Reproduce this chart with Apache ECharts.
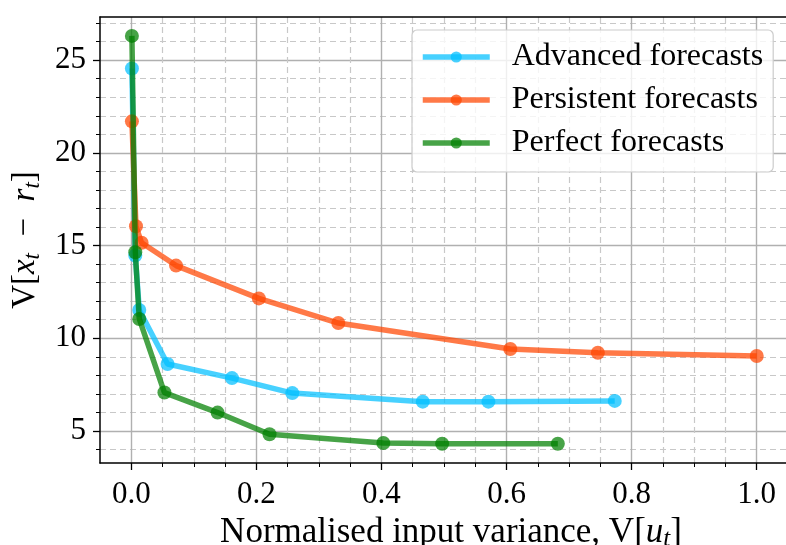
<!DOCTYPE html>
<html>
<head>
<meta charset="utf-8">
<script src="https://cdn.jsdelivr.net/npm/echarts@6/dist/echarts.min.js"></script>
<style>html,body{margin:0;padding:0;background:#fff}#c{width:786px;height:545px}</style>
</head>
<body>
<div id="c"></div>
<script>
const seriesNames = ['Advanced forecasts', 'Persistent forecasts', 'Perfect forecasts'];
const advancedX = [0.001, 0.0064, 0.0128, 0.058, 0.161, 0.2575, 0.466, 0.571, 0.773];
const advancedY = [24.55, 14.46, 11.52, 8.61, 7.85, 7.04, 6.58, 6.58, 6.62];
const persistentX = [0.001, 0.0075, 0.0165, 0.0716, 0.204, 0.331, 0.606, 0.746, 1.0];
const persistentY = [21.70, 16.04, 15.15, 13.92, 12.15, 10.82, 9.42, 9.22, 9.04];
const perfectX = [0.001, 0.0064, 0.0128, 0.053, 0.138, 0.221, 0.403, 0.497, 0.682];
const perfectY = [26.31, 14.64, 11.04, 7.07, 5.99, 4.82, 4.35, 4.31, 4.31];
const xTicks = [0, 0.2, 0.4, 0.6, 0.8, 1.0];
const yTicks = [5, 10, 15, 20, 25];

const FONT = '"Liberation Serif", "DejaVu Serif", serif';
const pair = (xs, ys) => xs.map((x, i) => [x, ys[i]]);
const colors = ['#00bfff', '#ff4500', '#008000'];

const chart = echarts.init(document.getElementById('c'), null, {renderer: 'canvas'});

const xMin = -0.05, xMax = 1.05, yMin = 3.27, yMax = 27.33;

function mkSeries(name, xs, ys, color, z) {
  return {
    name: name, type: 'line', data: pair(xs, ys),
    xAxisIndex: 0, yAxisIndex: 0,
    symbol: 'circle', symbolSize: 14, showAllSymbol: true,
    z: z,
    lineStyle: {color: color, width: 5.5, opacity: 0.72},
    itemStyle: {color: color, opacity: 0.72},
    emphasis: {disabled: true},
    animation: false
  };
}

function mkRich(size) {
  return {
    n: {fontFamily: FONT, fontSize: size, lineHeight: size + 4, color: '#000'},
    i: {fontFamily: FONT, fontSize: size, lineHeight: size + 4, fontStyle: 'italic', color: '#000'},
    s: {fontFamily: FONT, fontSize: Math.round(size * 0.7), lineHeight: Math.round(size * 0.7), fontStyle: 'italic', verticalAlign: 'bottom', color: '#000'}
  };
}

const option = {
  animation: false,
  backgroundColor: '#fff',
  grid: {left: 100, top: 17, width: 688, height: 446, show: false, containLabel: false, outerBoundsMode: 'none'},
  legend: {
    show: true, orient: 'vertical', left: 412, top: 30,
    itemWidth: 67, itemHeight: 14, itemGap: 11,
    padding: [11, 10, 13, 8],
    backgroundColor: 'rgba(255,255,255,0.8)', borderColor: '#cccccc', borderWidth: 1.2, borderRadius: 5,
    lineStyle: {width: 5.5},
    textStyle: {fontFamily: FONT, fontSize: 32, lineHeight: 31, color: '#000', padding: [0, 0, 0, 17]},
    data: seriesNames
  },
  xAxis: [{
    type: 'value', min: xMin, max: xMax, gridIndex: 0,
    name: '{n|Normalised input variance, V[}{i|u}{s|t}{n|]}',
    nameLocation: 'middle', nameGap: 44,
    nameTextStyle: {rich: mkRich(35), padding: [0, 0, 0, 14]},
    axisLine: {show: true, onZero: false, lineStyle: {color: '#000', width: 1.5}},
    axisTick: {show: true, inside: false, length: 7, lineStyle: {color: '#000', width: 1.3}, customValues: xTicks},
    minorTick: {show: true, splitNumber: 4, length: 4, lineStyle: {color: '#000', width: 1}},
    axisLabel: {show: true, margin: 16, fontFamily: FONT, fontSize: 31, color: '#000',
      customValues: xTicks, formatter: v => v.toFixed(1)},
    splitLine: {show: true, lineStyle: {color: '#b0b0b0', width: 1.4}},
    minorSplitLine: {show: true, lineStyle: {color: '#c8c8c8', width: 1.2, type: [6, 4]}}
  }, {
    type: 'value', min: xMin, max: xMax, gridIndex: 0, position: 'top',
    axisLine: {show: true, onZero: false, lineStyle: {color: '#000', width: 1.5}},
    axisTick: {show: false}, axisLabel: {show: false}, splitLine: {show: false}
  }],
  yAxis: [{
    type: 'value', min: yMin, max: yMax, gridIndex: 0,
    name: '{n|V[}{i|x}{s|t}{n|  −  }{i|r}{s|t}{n|]}',
    nameLocation: 'middle', nameGap: 38,
    nameTextStyle: {rich: mkRich(33)},
    axisLine: {show: true, onZero: false, lineStyle: {color: '#000', width: 1.5}},
    axisTick: {show: true, inside: false, length: 7, lineStyle: {color: '#000', width: 1.3}, customValues: yTicks},
    minorTick: {show: true, splitNumber: 5, length: 4, lineStyle: {color: '#000', width: 1}},
    axisLabel: {show: true, margin: 14, fontFamily: FONT, fontSize: 31, color: '#000',
      customValues: yTicks, formatter: v => String(Math.round(v))},
    splitLine: {show: true, lineStyle: {color: '#b0b0b0', width: 1.4}},
    minorSplitLine: {show: true, lineStyle: {color: '#c8c8c8', width: 1.2, type: [6, 4]}}
  }],
  series: [
    mkSeries(seriesNames[0], advancedX, advancedY, colors[0], 2),
    mkSeries(seriesNames[1], persistentX, persistentY, colors[1], 3),
    mkSeries(seriesNames[2], perfectX, perfectY, colors[2], 4)
  ]
};
chart.setOption(option);
</script>
</body>
</html>
